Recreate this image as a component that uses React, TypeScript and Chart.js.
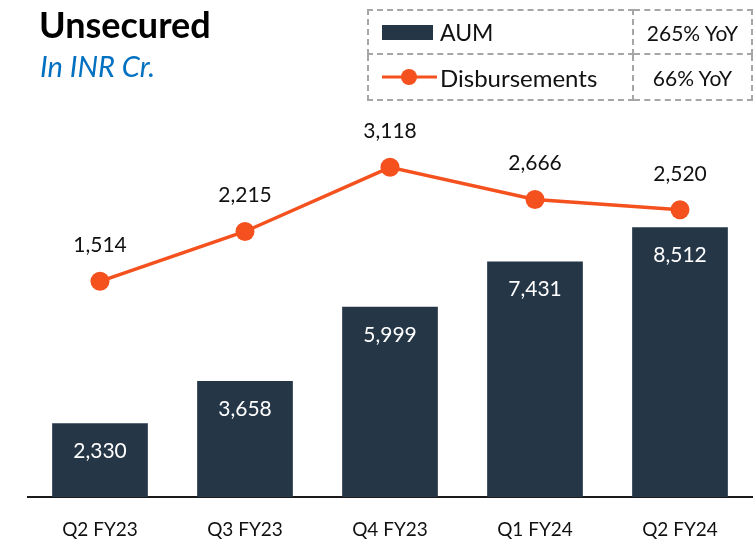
import React, { useEffect, useRef } from "react";
import { Chart, registerables } from "chart.js";
Chart.register(...registerables);

const categories = ["Q2 FY23", "Q3 FY23", "Q4 FY23", "Q1 FY24", "Q2 FY24"];
const aumValues = [2330, 3658, 5999, 7431, 8512];
const disbursementValues = [1514, 2215, 3118, 2666, 2520];
const seriesNames = ["AUM", "Disbursements"];
const yoyLabels = ["265% YoY", "66% YoY"];
const chartTitle = "Unsecured";
const chartSubtitle = "In INR Cr.";

const BAR = "#253647";
const LINE = "#f4511e";
const DASH = "#a6a6a6";
const FONT = "Lato, 'Open Sans', sans-serif";
const fmt = (v: number) => v.toLocaleString("en-US");

const valueLabels = {
  id: "valueLabels",
  afterDatasetsDraw(chart: any) {
    const ctx = chart.ctx;
    ctx.save();
    ctx.textAlign = "center";
    ctx.textBaseline = "middle";
    chart.data.datasets.forEach((ds: any, i: number) => {
      const meta = chart.getDatasetMeta(i);
      meta.data.forEach((el: any, j: number) => {
        const v = ds.data[j] as number;
        if (ds.type === "bar") {
          ctx.fillStyle = "#ffffff";
          ctx.font = `21px ${FONT}`;
          ctx.fillText(fmt(v), el.x, el.y + 28);
        } else {
          ctx.fillStyle = "#111111";
          ctx.font = `21px ${FONT}`;
          ctx.fillText(fmt(v), el.x, el.y - 36);
        }
      });
    });
    ctx.restore();
  },
};

export default function App() {
  const canvasRef = useRef<HTMLCanvasElement | null>(null);

  useEffect(() => {
    if (!canvasRef.current) return;
    const chart = new Chart(canvasRef.current, {
      type: "bar",
      data: {
        labels: categories,
        datasets: [
          {
            type: "line",
            label: seriesNames[1],
            data: disbursementValues,
            yAxisID: "y1",
            borderColor: LINE,
            backgroundColor: LINE,
            borderWidth: 3.5,
            pointRadius: 9.5,
            pointBackgroundColor: LINE,
            pointBorderWidth: 0,
            order: 0,
          } as any,
          {
            type: "bar",
            label: seriesNames[0],
            data: aumValues,
            yAxisID: "y",
            backgroundColor: BAR,
            barPercentage: 0.66,
            categoryPercentage: 1,
            order: 1,
          } as any,
        ],
      },
      options: {
        responsive: false,
        animation: false,
        layout: { autoPadding: false, padding: { left: 27.5, right: 1.5, top: 120, bottom: 0 } },
        plugins: { legend: { display: false }, tooltip: { enabled: false } },
        scales: {
          x: {
            grid: { display: false, drawTicks: false },
            border: { display: true, color: "#1a1a1a", width: 2 },
            ticks: { color: "#111111", font: { family: FONT, size: 19 }, padding: 21 },
            afterFit: (s: any) => {
              s.height = 44;
              s.paddingLeft = 0;
              s.paddingRight = 0;
            },
          },
          y: { display: false, min: 0, max: 11893 },
          y1: { display: false, min: -1519, max: 3783, position: "right" },
        },
      },
      plugins: [valueLabels],
    });
    return () => chart.destroy();
  }, []);

  const cell: React.CSSProperties = {
    border: `2px dashed ${DASH}`,
    padding: 0,
    fontFamily: FONT,
    color: "#111",
  };

  return (
    <div style={{ position: "absolute", left: 0, top: 0, width: 754, height: 541, background: "#fff", overflow: "hidden" }}>
      <canvas ref={canvasRef} width={754} height={541} style={{ position: "absolute", left: 0, top: 0 }} />
      <div style={{ position: "absolute", left: 39, top: 1, fontFamily: FONT, fontWeight: 700, fontSize: 36, color: "#000", lineHeight: "46px" }}>
        {chartTitle}
      </div>
      <div style={{ position: "absolute", left: 40, top: 47, fontFamily: FONT, fontStyle: "italic", fontSize: 29, color: "#0070c0", lineHeight: "38px" }}>
        {chartSubtitle}
      </div>
      <table style={{ position: "absolute", left: 367, top: 9, borderCollapse: "collapse", tableLayout: "fixed", width: 386 }}>
        <tbody>
          <tr style={{ height: 44 }}>
            <td style={{ ...cell, width: 263 }}>
              <div style={{ display: "flex", alignItems: "center", paddingLeft: 13 }}>
                <div style={{ width: 51, height: 15, background: BAR, marginRight: 7 }} />
                <span style={{ fontSize: 23 }}>{seriesNames[0]}</span>
              </div>
            </td>
            <td style={{ ...cell, textAlign: "center", fontSize: 21 }}>{yoyLabels[0]}</td>
          </tr>
          <tr style={{ height: 46 }}>
            <td style={cell}>
              <div style={{ display: "flex", alignItems: "center", paddingLeft: 13 }}>
                <svg width={55} height={20} style={{ marginRight: 3 }}>
                  <line x1={0} y1={10} x2={55} y2={10} stroke={LINE} strokeWidth={3} />
                  <circle cx={27} cy={10} r={8} fill={LINE} />
                </svg>
                <span style={{ fontSize: 24 }}>{seriesNames[1]}</span>
              </div>
            </td>
            <td style={{ ...cell, textAlign: "center", fontSize: 21 }}>{yoyLabels[1]}</td>
          </tr>
        </tbody>
      </table>
    </div>
  );
}
